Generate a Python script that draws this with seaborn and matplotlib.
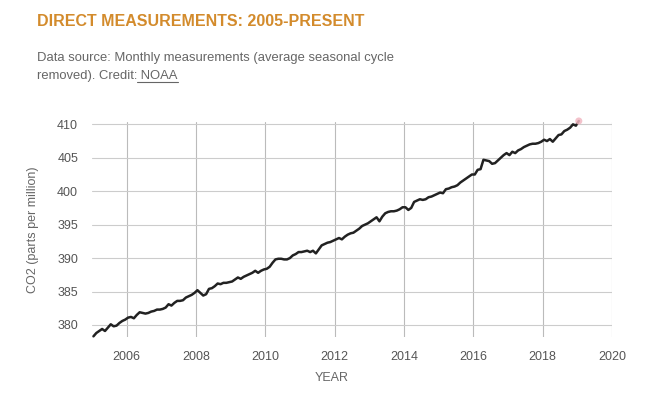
import matplotlib
matplotlib.use("Agg")
import matplotlib.pyplot as plt
import seaborn as sns
import pandas as pd
import numpy as np

# monthly CO2 (ppm), seasonal cycle removed, Jan 2005 .. Jan 2019
co2 = [
    378.3, 378.8, 379.1, 379.4, 379.1, 379.6, 380.1, 379.8, 379.9, 380.3, 380.6, 380.8,
    381.1, 381.2, 381.0, 381.5, 381.9, 381.8, 381.7, 381.8, 382.0, 382.1, 382.3, 382.3,
    382.4, 382.6, 383.1, 382.9, 383.3, 383.6, 383.6, 383.7, 384.1, 384.3, 384.5, 384.8,
    385.2, 384.8, 384.4, 384.6, 385.4, 385.5, 385.8, 386.2, 386.1, 386.3, 386.3, 386.4,
    386.5, 386.8, 387.1, 386.9, 387.2, 387.4, 387.6, 387.8, 388.1, 387.8, 388.1, 388.3,
    388.4, 388.7, 389.3, 389.8, 389.9, 389.9, 389.8, 389.8, 390.0, 390.4, 390.6, 390.9,
    390.9, 391.0, 391.1, 390.9, 391.1, 390.7, 391.3, 391.9, 392.1, 392.3, 392.4, 392.6,
    392.8, 393.0, 392.8, 393.2, 393.5, 393.7, 393.8, 394.1, 394.4, 394.8, 395.0, 395.2,
    395.5, 395.8, 396.1, 395.5, 396.2, 396.7, 396.9, 397.0, 397.0, 397.1, 397.3, 397.6,
    397.6, 397.2, 397.5, 398.4, 398.6, 398.8, 398.7, 398.8, 399.1, 399.2, 399.4, 399.6,
    399.8, 399.7, 400.3, 400.4, 400.6, 400.7, 400.9, 401.3, 401.6, 401.9, 402.2, 402.5,
    402.5, 403.2, 403.3, 404.7, 404.6, 404.5, 404.1, 404.2, 404.6, 405.0, 405.4, 405.7,
    405.4, 405.9, 405.7, 406.1, 406.3, 406.6, 406.8, 407.0, 407.1, 407.1, 407.2, 407.4,
    407.7, 407.5, 407.8, 407.4, 407.9, 408.4, 408.5, 409.0, 409.2, 409.5, 410.0, 409.8,
    410.5,
]
start_year = 2005
x_ticks = [2006, 2008, 2010, 2012, 2014, 2016, 2018, 2020]
y_ticks = [380, 385, 390, 395, 400, 405, 410]

df = pd.DataFrame({
    "year": start_year + (np.arange(len(co2)) + 0.5) / 12,
    "co2": co2,
})

sns.set_style("white")
plt.rcParams["font.family"] = ["Liberation Sans", "DejaVu Sans"]

fig = plt.figure(figsize=(6.58, 3.93), dpi=100)
ax = fig.add_axes([92 / 658, 1 - 337 / 393, 520 / 658, 215 / 393])

sns.lineplot(data=df, x="year", y="co2", ax=ax, color="#222222", linewidth=1.8)
for ln in ax.lines:
    ln.set_clip_on(False)
ax.scatter(df["year"].iloc[-1], df["co2"].iloc[-1], s=26, color="#f2b8c2",
           alpha=0.85, zorder=3, edgecolor="none", clip_on=False)

ax.set_xlim(2005, 2020)
ax.set_ylim(378.2, 410.35)
ax.set_xticks(x_ticks)
ax.set_yticks(y_ticks)
for s in ax.spines.values():
    s.set_visible(False)
ax.grid(axis="y", color="#cccccc", linewidth=0.8)
ax.grid(axis="x", color="#bbbbbb", linewidth=0.8)
ax.tick_params(length=0, labelsize=9, labelcolor="#555555")
ax.tick_params(axis="y", pad=10)
ax.tick_params(axis="x", pad=10)

ax.set_xlabel("YEAR", fontsize=9, color="#666666")
ax.xaxis.set_label_coords(0.46, -0.165)
ax.set_ylabel("CO2 (parts per million)", fontsize=9, color="#666666")
ax.yaxis.set_label_coords(-0.102, 0.5)

fig.text(37 / 658, 1 - 22 / 393, "DIRECT MEASUREMENTS: 2005-PRESENT",
         fontsize=11.5, fontweight="bold", color="#d38b2c", va="center")
fig.text(37 / 658, 1 - 58 / 393,
         "Data source: Monthly measurements (average seasonal cycle",
         fontsize=9.4, color="#666666", va="center")
t2 = fig.text(37 / 658, 1 - 76 / 393, "removed). Credit:",
              fontsize=9.4, color="#666666", va="center")

fig.canvas.draw()
r = fig.canvas.get_renderer()
bb = t2.get_window_extent(r)
t3 = fig.text(bb.x1 / 658, 1 - 76 / 393, " NOAA", fontsize=9.4,
              color="#666666", va="center")
fig.canvas.draw()
bb3 = t3.get_window_extent(r)
fig.add_artist(plt.Line2D([bb3.x0 / 658, bb3.x1 / 658],
                          [(bb3.y0 + 0.5) / 393, (bb3.y0 + 0.5) / 393],
                          color="#666666", linewidth=0.8))

fig.savefig("out.png", dpi=100, facecolor="white")
